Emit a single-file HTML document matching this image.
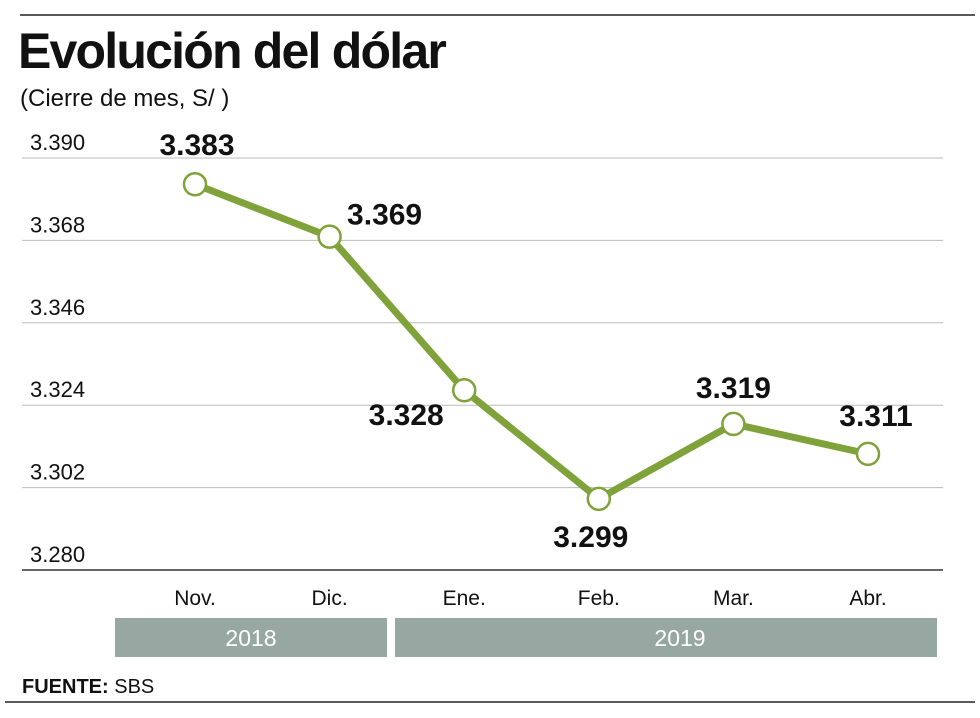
<!DOCTYPE html>
<html><head><meta charset="utf-8"><style>
body{margin:0;background:#fff;}
svg{display:block;font-family:"Liberation Sans","DejaVu Sans",sans-serif;}
</style></head><body>
<svg id="chart" width="980" height="718" viewBox="0 0 980 718">
<line x1="20" y1="15" x2="975" y2="15" stroke="#222" stroke-width="1.5"/>
<text x="18" y="68" font-size="50" font-weight="bold" letter-spacing="-1.8" fill="#111">Evolución del dólar</text>
<text x="20" y="106" font-size="24" fill="#111">(Cierre de mes, S/ )</text>
<g id="grid"></g>
<g id="xlabels"></g>
<rect x="115" y="618" width="272" height="39" fill="#97a8a3"/>
<text x="251" y="646" font-size="23" fill="#fff" text-anchor="middle">2018</text>
<rect x="395" y="618" width="542" height="39" fill="#97a8a3"/>
<text x="680" y="646" font-size="23" fill="#fff" text-anchor="middle">2019</text>
<text x="22" y="693" font-size="20" fill="#111"><tspan font-weight="bold">FUENTE:</tspan> SBS</text>
<line x1="5" y1="702" x2="975" y2="702" stroke="#222" stroke-width="1.5"/>
<g id="series"></g>
</svg>
<script>
const categories = ["Nov.", "Dic.", "Ene.", "Feb.", "Mar.", "Abr."];
const values = [3.383, 3.369, 3.328, 3.299, 3.319, 3.311];
const valueLabels = ["3.383", "3.369", "3.328", "3.299", "3.319", "3.311"];
const yTicks = [3.390, 3.368, 3.346, 3.324, 3.302, 3.280];
const yTickLabels = ["3.390", "3.368", "3.346", "3.324", "3.302", "3.280"];

const NS = "http://www.w3.org/2000/svg";
const yMin = 3.280, yMax = 3.390, yTop = 158, yBot = 570;
function y(v){ return yBot - (v - yMin) / (yMax - yMin) * (yBot - yTop); }
function x(i){ return 195 + i * 134.6; }
function mk(tag, attrs, parent){
  const e = document.createElementNS(NS, tag);
  for (const k in attrs) e.setAttribute(k, attrs[k]);
  parent.appendChild(e); return e;
}
const grid = document.getElementById("grid");
yTicks.forEach((t, i) => {
  const last = i === yTicks.length - 1;
  const l = mk("line", {x1: 22, x2: 943, y1: y(t), y2: y(t), stroke: last ? "#333" : "#bbb", "stroke-width": last ? 1.5 : 1}, grid);
  
  
  const tx = mk("text", {x: 30, y: y(t) - 8, "font-size": 22, fill: "#111"}, grid);
  tx.textContent = yTickLabels[i];
  
  
});
const xl = document.getElementById("xlabels");
categories.forEach((c, i) => {
  const t = mk("text", {x: x(i), y: 605, "font-size": 21, fill: "#111", "text-anchor": "middle"}, xl);
  t.textContent = c;
  
  
});
const s = document.getElementById("series");
const pts = values.map((v, i) => x(i) + "," + y(v)).join(" ");
const pl = mk("polyline", {points: pts, fill: "none", stroke: "#7fa23a", "stroke-width": 7, "stroke-linejoin": "round"}, s);


const labelOffsets = [[2, -29], [55, -12], [-58, 35], [-8, 48], [0, -26], [8, -28]];
values.forEach((v, i) => {
  const c = mk("circle", {cx: x(i), cy: y(v), r: 11, fill: "#fff", stroke: "#7fa23a", "stroke-width": 2.5}, s);
  
  
  const t = mk("text", {x: x(i) + labelOffsets[i][0], y: y(v) + labelOffsets[i][1], "font-size": 30, "font-weight": "bold", fill: "#111", "text-anchor": "middle"}, s);
  t.textContent = valueLabels[i];
  
  
});
</script>
</body></html>
